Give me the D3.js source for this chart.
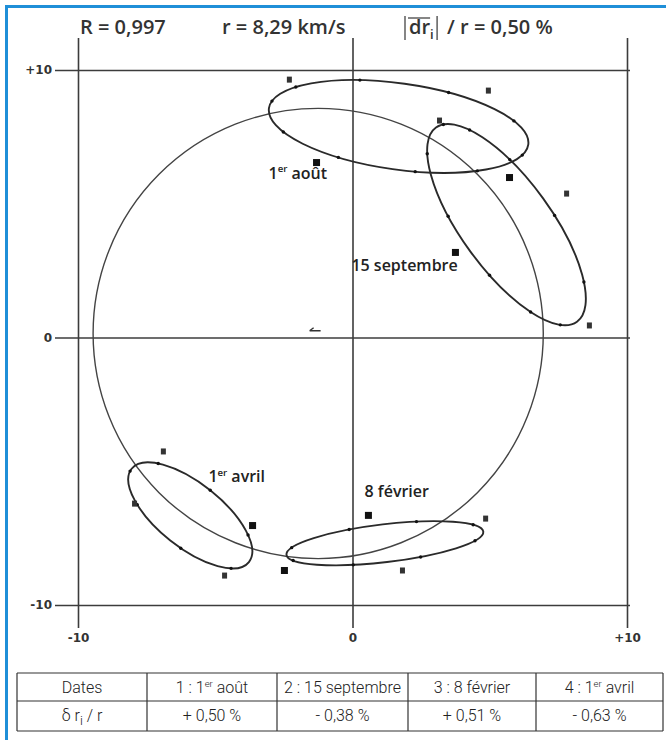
<!DOCTYPE html>
<html>
<head>
<meta charset="utf-8">
<script src="https://cdn.jsdelivr.net/npm/d3@7"></script>
<style>
  body { margin: 0; background: #fff; }
  svg { display: block; }
  .grid line { stroke: #3c3c3c; stroke-width: 1.6; }
  .grid text { font: bold 12px "DejaVu Sans", sans-serif; fill: #333; }
  .head { font-family: "Open Sans", sans-serif; font-weight: 600; fill: #333; }
  .lbl { font-family: "Open Sans", sans-serif; font-weight: 600; font-size: 16px; fill: #222; }
  .cell { font-family: Roboto, sans-serif; font-weight: 300; font-size: 16px; fill: #222; }
</style>
</head>
<body>
<div id="chart"></div>
<script>
// axis ticks (same for x and y)
const ticks = [-10, 0, 10];
const tickLabels = ["-10", "0", "+10"];

// big circle, data units
const circleCenter = [-1.25, 0.15];
const circleRadius = 8.2;

// the four ellipses (one per date), data units, angle in degrees (counter-clockwise)
const ellipseNames = ["1^er^ août", "15 septembre", "8 février", "1^er^ avril"];
const ellipseCx = [1.68, 5.61, 1.18, -5.91];
const ellipseCy = [7.89, 4.22, -7.69, -6.65];
const ellipseA = [4.77, 4.37, 3.61, 2.73];
const ellipseB = [1.57, 1.64, 0.69, 1.17];
const ellipseAngle = [-8, -54, 6.7, -38.5];
// measured points along each ellipse (parametric angle, degrees)
const ellipseDots = [
  [15, 50, 80, 115, 150, 190, 215, 250, 290, 330],
  [20, 45, 75, 110, 150, 190, 215, 245, 280, 320],
  [25, 70, 110, 160, 200, 250, 290, 335],
  [30, 80, 130, 175, 220, 270, 320]
];
const labelX = [-3.06, -0.04, 0.44, -5.25];
const labelY = [5.94, 2.50, -5.98, -5.42];

// numbered markers scattered round the ellipses
const markerX = [-2.30, 4.95, 3.17, -1.31, 5.72, 7.80, 3.75, 8.63, -6.89, -7.94, -3.64, -4.66, -2.48, 0.58, 4.85, 1.82];
const markerY = [9.64, 9.23, 8.11, 6.54, 5.98, 5.38, 3.18, 0.45, -4.26, -6.21, -7.03, -8.90, -8.71, -6.65, -6.77, -8.71];
const markerFilled = [0, 0, 0, 1, 1, 0, 1, 0, 0, 0, 1, 0, 1, 1, 0, 0];
const centerMark = [-1.38, 0.25];

// header and table
const headR = "R = 0,997";
const headSpeed = "r = 8,29 km/s";
const headRatio = "/ r = 0,50 %";
const tableDates = ["Dates", "1 : 1^er^ août", "2 : 15 septembre", "3 : 8 février", "4 : 1^er^ avril"];
const tableDelta = ["δ r_i_ / r", "+ 0,50 %", "- 0,38 %", "+ 0,51 %", "- 0,63 %"];

const W = 666, H = 740;
const svg = d3.select("#chart").append("svg").attr("width", W).attr("height", H);

// blue frame (top and left)
svg.append("rect").attr("x", 5).attr("y", 5).attr("width", W - 5).attr("height", 3).attr("fill", "#1f8fd8");
svg.append("rect").attr("x", 5).attr("y", 5).attr("width", 3).attr("height", H - 5).attr("fill", "#1f8fd8");

const x = d3.scaleLinear().domain([-10, 10]).range([78, 627]);
const y = d3.scaleLinear().domain([-10, 10]).range([605, 70]);
const fmt = d => tickLabels[ticks.indexOf(d)];

// grid lines drawn as long ticks
svg.append("g").attr("class", "grid")
    .attr("transform", "translate(55,0)")
    .call(d3.axisLeft(y).tickValues(ticks).tickFormat(fmt).tickSize(-575).tickPadding(3))
    .call(g => g.select(".domain").remove());
svg.append("g").attr("class", "grid")
    .attr("transform", "translate(0,628)")
    .call(d3.axisBottom(x).tickValues(ticks).tickFormat(fmt).tickSize(-590).tickPadding(5))
    .call(g => g.select(".domain").remove());

function rich(sel, str, fs) {
  const re = /\^([^^]+)\^|_([^_]+)_|([^^_]+)/g;
  let m, shift = 0;
  while ((m = re.exec(str))) {
    let t, dy, size;
    if (m[1]) { t = m[1]; dy = -fs * 0.4; size = fs * 0.6; }
    else if (m[2]) { t = m[2]; dy = fs * 0.25; size = fs * 0.8; }
    else { t = m[3]; dy = 0; size = fs; }
    sel.append("tspan").attr("dy", dy - shift).style("font-size", size + "px").text(t);
    shift = dy;
  }
}

const plot = svg.append("g");
const k = x(1) - x(0);

plot.append("circle")
    .attr("cx", x(circleCenter[0])).attr("cy", y(circleCenter[1]))
    .attr("r", x(circleRadius) - x(0))
    .attr("fill", "none").attr("stroke", "#444").attr("stroke-width", 1.4);

const ell = ellipseNames.map((name, i) => ({
  name, cx: ellipseCx[i], cy: ellipseCy[i], a: ellipseA[i], b: ellipseB[i],
  angle: ellipseAngle[i], dots: ellipseDots[i], lx: labelX[i], ly: labelY[i]
}));

plot.selectAll(".ell").data(ell).join("ellipse")
    .attr("class", "ell")
    .attr("transform", d => `translate(${x(d.cx)},${y(d.cy)}) rotate(${-d.angle})`)
    .attr("rx", d => d.a * k).attr("ry", d => d.b * k)
    .attr("fill", "none").attr("stroke", "#2a2a2a").attr("stroke-width", 1.9);

ell.forEach(d => {
  const phi = -d.angle * Math.PI / 180;
  plot.selectAll(null).data(d.dots).join("circle")
      .attr("cx", t => { t = t * Math.PI / 180; return x(d.cx) + d.a * k * Math.cos(t) * Math.cos(phi) - d.b * k * Math.sin(t) * Math.sin(phi); })
      .attr("cy", t => { t = t * Math.PI / 180; return y(d.cy) + d.a * k * Math.cos(t) * Math.sin(phi) + d.b * k * Math.sin(t) * Math.cos(phi); })
      .attr("r", 1.7).attr("fill", "#111");
});

plot.selectAll(".mk").data(markerX.map((v, i) => [v, markerY[i], markerFilled[i]])).join("rect")
    .attr("class", "mk")
    .attr("x", d => x(d[0]) - (d[2] ? 3.5 : 2.5))
    .attr("y", d => y(d[1]) - (d[2] ? 3.5 : 3))
    .attr("width", d => d[2] ? 7 : 5).attr("height", d => d[2] ? 7 : 6)
    .attr("fill", d => d[2] ? "#111" : "#333");

plot.append("path")
    .attr("d", `M${x(centerMark[0]) - 5},${y(centerMark[1])}h11M${x(centerMark[0]) - 5},${y(centerMark[1])}l4,-3`)
    .attr("stroke", "#333").attr("stroke-width", 1.4).attr("fill", "none");

ell.forEach(d => {
  const t = svg.append("text").attr("class", "lbl").attr("x", x(d.lx)).attr("y", y(d.ly));
  rich(t, d.name, 16);
});

// header
const hy = 34, hs = 20;
svg.append("text").attr("class", "head").attr("x", 80).attr("y", hy).style("font-size", hs + "px").text(headR);
svg.append("text").attr("class", "head").attr("x", 222).attr("y", hy).style("font-size", hs + "px").text(headSpeed);
const dr = svg.append("text").attr("class", "head").attr("x", 409).attr("y", hy).style("font-size", hs + "px").text("dr");
const drW = dr.node().getComputedTextLength();
svg.append("text").attr("class", "head").attr("x", 409 + drW).attr("y", hy + 5).style("font-size", "13px").text("i");
const bar2 = 409 + drW + 7;
svg.append("g").attr("stroke", "#444").attr("stroke-width", 1.3)
  .selectAll("line").data([[405, 16, 405, 40], [bar2, 16, bar2, 40], [408, 18, 409 + drW, 18]]).join("line")
    .attr("x1", d => d[0]).attr("y1", d => d[1]).attr("x2", d => d[2]).attr("y2", d => d[3]);
svg.append("text").attr("class", "head").attr("x", bar2 + 10).attr("y", hy).style("font-size", hs + "px").text(headRatio);

// table
const colX = [17, 147, 277, 408, 536, 663];
const rowY = [673, 701, 731];
const tbl = svg.append("g").attr("stroke", "#333").attr("stroke-width", 1.2);
rowY.forEach(v => tbl.append("line").attr("x1", colX[0]).attr("x2", colX[5]).attr("y1", v).attr("y2", v));
colX.forEach(v => tbl.append("line").attr("x1", v).attr("x2", v).attr("y1", rowY[0]).attr("y2", rowY[2]));
[tableDates, tableDelta].forEach((row, r) => {
  row.forEach((s, c) => {
    const t = svg.append("text").attr("class", "cell")
        .attr("x", (colX[c] + colX[c + 1]) / 2).attr("y", rowY[r] + 20)
        .attr("text-anchor", "middle");
    rich(t, s, 16);
  });
});
</script>
</body>
</html>
